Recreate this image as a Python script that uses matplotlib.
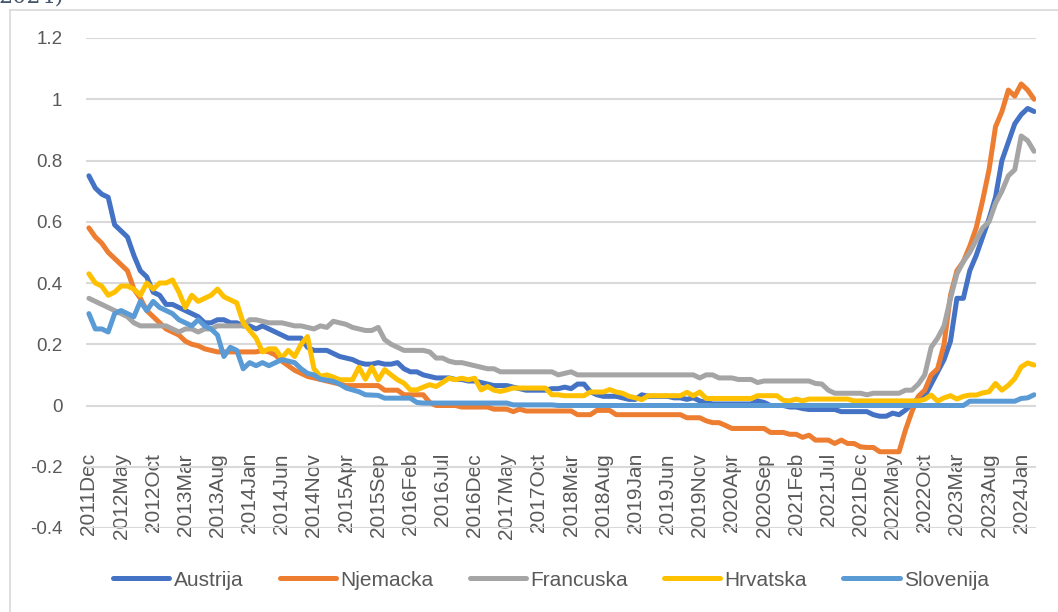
import numpy as np
import matplotlib.pyplot as plt
from matplotlib.lines import Line2D

plt.rcParams['font.family'] = ['Liberation Sans', 'DejaVu Sans']

# Category labels shown on the x axis (every 5th month, 2011Dec .. 2024Jan)
tick_labels = ["2011Dec", "2012May", "2012Oct", "2013Mar", "2013Aug", "2014Jan",
               "2014Jun", "2014Nov", "2015Apr", "2015Sep", "2016Feb", "2016Jul",
               "2016Dec", "2017May", "2017Oct", "2018Mar", "2018Aug", "2019Jan",
               "2019Jun", "2019Nov", "2020Apr", "2020Sep", "2021Feb", "2021Jul",
               "2021Dec", "2022May", "2022Oct", "2023Mar", "2023Aug", "2024Jan"]

# Monthly values, 2011Dec .. 2024Mar (one row per year)
austrija = [0.75,
    0.71, 0.69, 0.68, 0.59, 0.57, 0.55, 0.49, 0.44, 0.42, 0.37, 0.36, 0.33,
    0.33, 0.32, 0.31, 0.30, 0.29, 0.27, 0.27, 0.28, 0.28, 0.27, 0.27, 0.26,
    0.26, 0.25, 0.26, 0.25, 0.24, 0.23, 0.22, 0.22, 0.22, 0.19, 0.18, 0.18,
    0.18, 0.17, 0.16, 0.155, 0.15, 0.14, 0.135, 0.135, 0.14, 0.135, 0.135, 0.14,
    0.12, 0.11, 0.11, 0.10, 0.095, 0.09, 0.09, 0.09, 0.085, 0.085, 0.08, 0.08,
    0.075, 0.07, 0.065, 0.065, 0.065, 0.06, 0.055, 0.05, 0.05, 0.05, 0.05, 0.055,
    0.055, 0.06, 0.055, 0.07, 0.07, 0.045, 0.035, 0.03, 0.03, 0.03, 0.025, 0.02,
    0.02, 0.035, 0.03, 0.03, 0.03, 0.03, 0.025, 0.025, 0.02, 0.025, 0.015, 0.01,
    0.005, 0.005, 0.005, 0.005, 0.005, 0.005, 0.005, 0.015, 0.01, 0.0, 0.0, 0.0,
    -0.005, -0.005, -0.01, -0.013, -0.013, -0.013, -0.013, -0.013, -0.02, -0.02, -0.02, -0.02,
    -0.02, -0.03, -0.035, -0.035, -0.025, -0.03, -0.015, 0.005, 0.025, 0.03, 0.07, 0.11,
    0.15, 0.21, 0.35, 0.35, 0.44, 0.49, 0.55, 0.61, 0.68, 0.80, 0.86, 0.92,
    0.95, 0.97, 0.96]

njemacka = [0.58,
    0.55, 0.53, 0.50, 0.48, 0.46, 0.44, 0.38, 0.35, 0.31, 0.29, 0.27, 0.25,
    0.24, 0.23, 0.21, 0.20, 0.195, 0.185, 0.18, 0.175, 0.175, 0.175, 0.175, 0.175,
    0.175, 0.175, 0.18, 0.175, 0.165, 0.145, 0.13, 0.115, 0.105, 0.095, 0.09, 0.085,
    0.08, 0.075, 0.07, 0.065, 0.065, 0.065, 0.065, 0.065, 0.065, 0.05, 0.05, 0.05,
    0.035, 0.035, 0.035, 0.035, 0.01, 0.0, 0.0, 0.0, 0.0, -0.005, -0.005, -0.005,
    -0.005, -0.005, -0.012, -0.012, -0.012, -0.02, -0.012, -0.018, -0.018, -0.018, -0.018, -0.018,
    -0.018, -0.018, -0.018, -0.03, -0.03, -0.03, -0.016, -0.016, -0.016, -0.03, -0.03, -0.03,
    -0.03, -0.03, -0.03, -0.03, -0.03, -0.03, -0.03, -0.03, -0.04, -0.04, -0.04, -0.05,
    -0.056, -0.056, -0.065, -0.075, -0.075, -0.075, -0.075, -0.075, -0.075, -0.088, -0.088, -0.088,
    -0.094, -0.094, -0.104, -0.097, -0.113, -0.113, -0.113, -0.124, -0.113, -0.124, -0.124, -0.135,
    -0.137, -0.137, -0.151, -0.151, -0.151, -0.151, -0.08, -0.02, 0.03, 0.05, 0.10, 0.12,
    0.20, 0.36, 0.44, 0.47, 0.52, 0.58, 0.67, 0.77, 0.91, 0.96, 1.03, 1.01,
    1.05, 1.03, 1.00]

francuska = [0.35,
    0.34, 0.33, 0.32, 0.31, 0.30, 0.29, 0.27, 0.26, 0.26, 0.26, 0.26, 0.26,
    0.25, 0.24, 0.25, 0.25, 0.24, 0.25, 0.25, 0.26, 0.26, 0.26, 0.26, 0.26,
    0.28, 0.28, 0.275, 0.27, 0.27, 0.27, 0.265, 0.26, 0.26, 0.255, 0.25, 0.26,
    0.255, 0.275, 0.27, 0.265, 0.255, 0.25, 0.245, 0.245, 0.255, 0.215, 0.20, 0.19,
    0.18, 0.18, 0.18, 0.18, 0.175, 0.155, 0.155, 0.145, 0.14, 0.14, 0.135, 0.13,
    0.125, 0.12, 0.12, 0.11, 0.11, 0.11, 0.11, 0.11, 0.11, 0.11, 0.11, 0.11,
    0.10, 0.105, 0.11, 0.10, 0.10, 0.10, 0.10, 0.10, 0.10, 0.10, 0.10, 0.10,
    0.10, 0.10, 0.10, 0.10, 0.10, 0.10, 0.10, 0.10, 0.10, 0.10, 0.09, 0.10,
    0.10, 0.09, 0.09, 0.09, 0.085, 0.085, 0.085, 0.075, 0.08, 0.08, 0.08, 0.08,
    0.08, 0.08, 0.08, 0.08, 0.072, 0.07, 0.05, 0.04, 0.04, 0.04, 0.04, 0.04,
    0.035, 0.04, 0.04, 0.04, 0.04, 0.04, 0.05, 0.05, 0.07, 0.10, 0.19, 0.22,
    0.26, 0.35, 0.43, 0.47, 0.50, 0.54, 0.58, 0.60, 0.66, 0.70, 0.75, 0.77,
    0.88, 0.865, 0.83]

hrvatska = [0.43,
    0.40, 0.39, 0.36, 0.37, 0.39, 0.39, 0.38, 0.36, 0.40, 0.38, 0.40, 0.40,
    0.41, 0.37, 0.32, 0.36, 0.34, 0.35, 0.36, 0.38, 0.355, 0.345, 0.335, 0.27,
    0.245, 0.22, 0.175, 0.185, 0.185, 0.155, 0.18, 0.16, 0.20, 0.225, 0.12, 0.095,
    0.10, 0.093, 0.084, 0.084, 0.084, 0.125, 0.086, 0.125, 0.084, 0.117, 0.10, 0.084,
    0.073, 0.051, 0.051, 0.06, 0.068, 0.062, 0.075, 0.089, 0.084, 0.089, 0.084, 0.089,
    0.051, 0.062, 0.05, 0.046, 0.051, 0.057, 0.057, 0.057, 0.057, 0.057, 0.057, 0.035,
    0.035, 0.032, 0.032, 0.032, 0.032, 0.044, 0.044, 0.044, 0.052, 0.044, 0.04, 0.03,
    0.025, 0.019, 0.032, 0.032, 0.032, 0.032, 0.032, 0.032, 0.043, 0.032, 0.044, 0.023,
    0.023, 0.023, 0.023, 0.023, 0.023, 0.023, 0.023, 0.032, 0.032, 0.032, 0.032, 0.017,
    0.015, 0.021, 0.015, 0.021, 0.021, 0.021, 0.021, 0.021, 0.021, 0.021, 0.015, 0.015,
    0.015, 0.015, 0.015, 0.015, 0.015, 0.015, 0.015, 0.015, 0.015, 0.02, 0.034, 0.014,
    0.025, 0.032, 0.021, 0.03, 0.034, 0.034, 0.041, 0.045, 0.072, 0.05, 0.066, 0.088,
    0.126, 0.139, 0.132]

slovenija = [0.30,
    0.25, 0.25, 0.24, 0.30, 0.31, 0.30, 0.29, 0.34, 0.31, 0.34, 0.32, 0.31,
    0.30, 0.28, 0.27, 0.26, 0.28, 0.26, 0.25, 0.23, 0.16, 0.19, 0.18, 0.12,
    0.14, 0.13, 0.14, 0.13, 0.14, 0.15, 0.145, 0.14, 0.12, 0.105, 0.10, 0.086,
    0.083, 0.079, 0.07, 0.057, 0.051, 0.045, 0.035, 0.034, 0.033, 0.024, 0.024, 0.024,
    0.024, 0.024, 0.01, 0.008, 0.008, 0.008, 0.008, 0.008, 0.008, 0.008, 0.008, 0.008,
    0.008, 0.008, 0.008, 0.008, 0.008, 0.002, 0.002, 0.002, 0.002, 0.002, 0.002, 0.002,
    0.0, 0.0, 0.0, 0.0, 0.0, 0.0, 0.0, 0.0, 0.0, 0.0, 0.0, 0.0,
    0.0, 0.0, 0.0, 0.0, 0.0, 0.0, 0.0, 0.0, 0.0, 0.0, 0.0, 0.0,
    0.0, 0.0, 0.0, 0.0, 0.0, 0.0, 0.0, 0.0, 0.0, 0.0, 0.0, 0.0,
    0.0, 0.0, 0.0, 0.0, 0.0, 0.0, 0.0, 0.0, 0.0, 0.0, 0.0, 0.0,
    0.0, 0.0, 0.0, 0.0, 0.0, 0.0, 0.0, 0.0, 0.0, 0.0, 0.0, 0.0,
    0.0, 0.0, 0.0, 0.0, 0.014, 0.014, 0.014, 0.014, 0.014, 0.014, 0.014, 0.014,
    0.023, 0.025, 0.035]

names = ["Austrija", "Njemacka", "Francuska", "Hrvatska", "Slovenija"]
colors = ["#4472C4", "#ED7D31", "#A5A5A5", "#FFC000", "#5B9BD5"]
series = [austrija, njemacka, francuska, hrvatska, slovenija]

W, H = 1058, 612
fig = plt.figure(figsize=(W / 100, H / 100), dpi=100)
ax = fig.add_axes([86 / W, 1 - 528 / H, 950 / W, 490 / H])

for name, vals, col in zip(names, series, colors):
    ax.plot(np.arange(len(vals)), vals, color=col, lw=3.6, label=name,
            solid_capstyle='round', solid_joinstyle='round')

# y axis
yt = np.round(np.arange(-0.4, 1.21, 0.2), 1)
ax.set_ylim(-0.4, 1.2)
ax.set_yticks(yt)
ax.set_yticklabels(["{:g}".format(v) for v in yt])
ax.grid(axis='y', color='#D9D9D9', lw=1.5)
ax.set_axisbelow(True)

# x axis: categories, label every 5th month
ax.set_xlim(-0.45, 147.3)
ax.set_xticks(np.arange(0, len(austrija), 5))
ax.set_xticklabels(tick_labels, rotation=90)

for s in ax.spines.values():
    s.set_visible(False)
ax.tick_params(axis='x', length=0, pad=-54, labelsize=15, labelcolor='#595959')
ax.tick_params(axis='y', length=0, pad=17, labelsize=13.5, labelcolor='#595959')

# legend below the chart
fig.legend(loc='center', bbox_to_anchor=(551 / W, 1 - 580 / H), ncol=5,
           frameon=False, fontsize=15, handlelength=2.7, handletextpad=0.2,
           columnspacing=1.75, labelcolor='#595959')

# chart area border (left and top edges only, the rest is cut off)
fig.add_artist(Line2D([10 / W, 10 / W], [0, 1 - 10 / H], color='#D9D9D9',
                      lw=1.2, transform=fig.transFigure))
fig.add_artist(Line2D([10 / W, 1], [1 - 10 / H, 1 - 10 / H], color='#D9D9D9',
                      lw=1.2, transform=fig.transFigure))

# bottom of the title line from above, cut off by the crop
fig.text(-2 / W, 1 - 2 / H, "2024)", fontsize=16, color='#44546A',
         family='DejaVu Serif', va='baseline', ha='left')

fig.savefig("out.png", dpi=100)
